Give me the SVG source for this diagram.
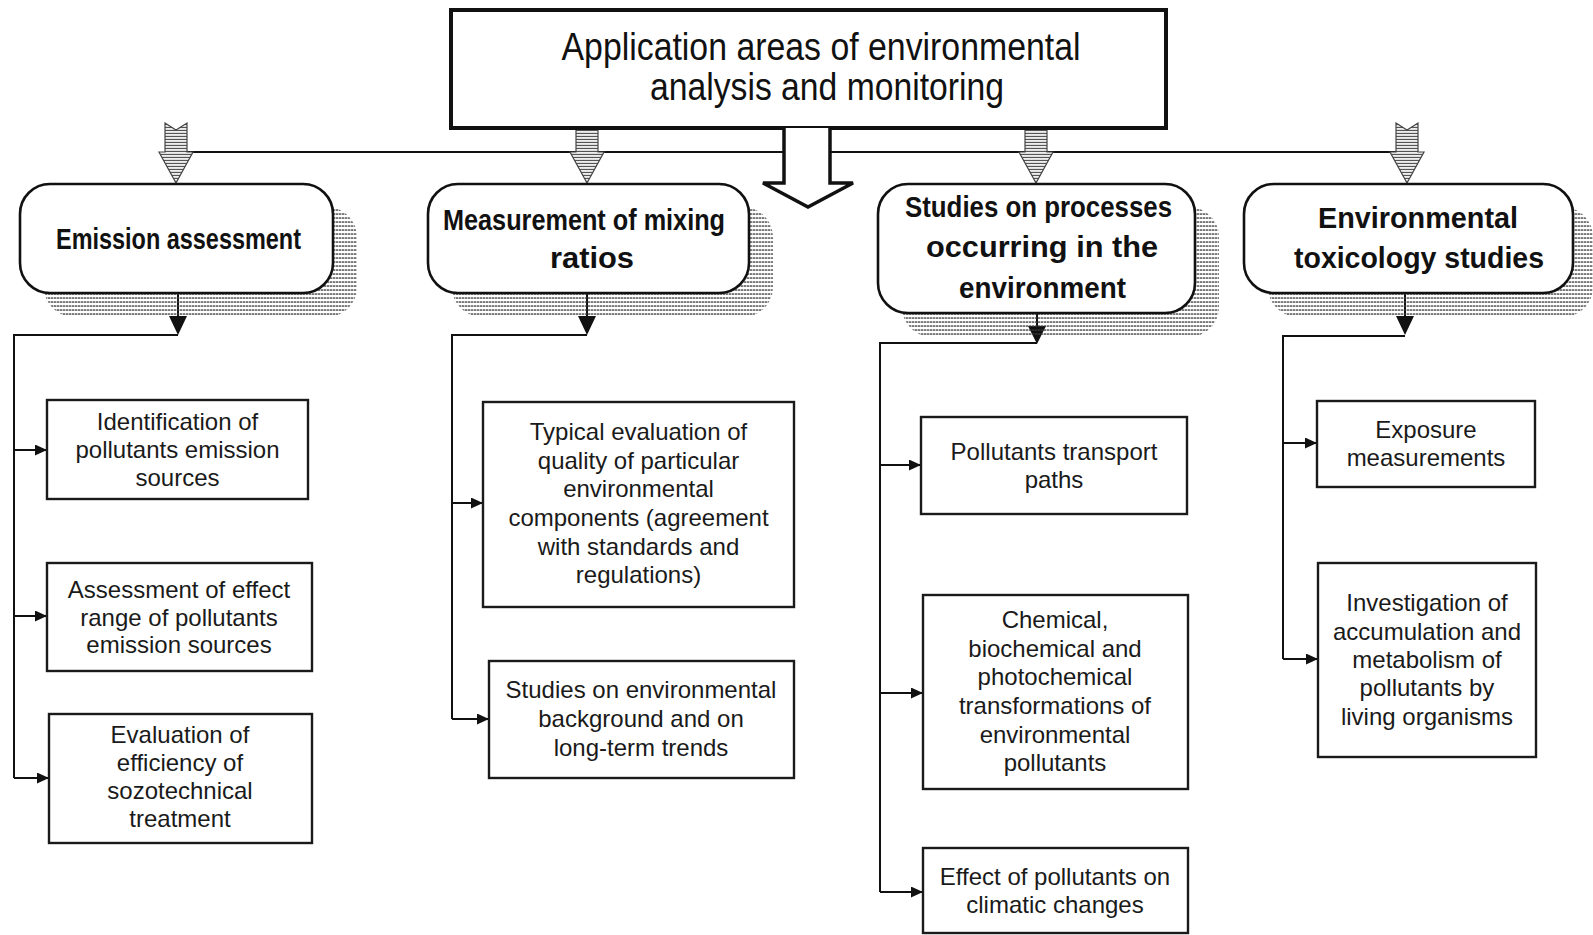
<svg xmlns="http://www.w3.org/2000/svg" width="1593" height="935" viewBox="0 0 1593 935">
<style>
  .bg{fill:#ffffff}
  .title{font-family:"Liberation Sans",Arial,sans-serif;font-size:38px;fill:#111;text-anchor:middle}
  .head{font-family:"Liberation Sans",Arial,sans-serif;font-size:30px;font-weight:bold;fill:#111;text-anchor:middle}
  .leaf{font-family:"Liberation Sans",Arial,sans-serif;font-size:24px;fill:#1a1a1a;text-anchor:middle}
  .topbox{fill:#fff;stroke:#111;stroke-width:4}
  .rbox{fill:#fff;stroke:#111;stroke-width:2.6}
  .shadow{fill:url(#shadowHatch);stroke:none}
  .cbox{fill:#fff;stroke:#1a1a1a;stroke-width:2.4}
  .conn{fill:none;stroke:#111;stroke-width:2}
  .tri{fill:#111;stroke:none}
  .hat{fill:url(#arrowHatch);stroke:#444;stroke-width:1.2}
  .big{fill:#fff;stroke:#111;stroke-width:3.5;stroke-linejoin:miter}
</style>
<defs>
  <pattern id="arrowHatch" patternUnits="userSpaceOnUse" width="4" height="3">
    <rect x="0" y="0" width="4" height="3" fill="#fff"/>
    <rect x="0" y="0.8" width="4" height="1.3" fill="#555"/>
  </pattern>
  <pattern id="shadowHatch" patternUnits="userSpaceOnUse" width="3" height="4">
    <rect x="0" y="1.4" width="2.4" height="1.3" fill="#3a3a3a"/>
  </pattern>
  <marker id="ah" markerUnits="userSpaceOnUse" markerWidth="13" markerHeight="11" refX="12" refY="5.5" orient="auto">
    <path d="M0,0 L12,5.5 L0,11 Z" fill="#111"/>
  </marker>
  <path id="hatArrow" class="hat" d="M-11,123 L0,130 L11,123 L11,152 L17,152 L0,183 L-17,152 L-11,152 Z"/>
</defs>
<rect class="bg" x="0" y="0" width="1593" height="935"/>

<g id="connectors">
  <line class="conn" x1="176" y1="152" x2="1407" y2="152" stroke-width="2.5"/>
  <use href="#hatArrow" transform="translate(176,0)"/>
  <use href="#hatArrow" transform="translate(587,0)"/>
  <use href="#hatArrow" transform="translate(1036,0)"/>
  <use href="#hatArrow" transform="translate(1407,0)"/>

  <!-- emission assessment -->
  <line class="conn" x1="178" y1="293" x2="178" y2="318"/>
  <polygon class="tri" points="169,316 187,316 178,335"/>
  <path class="conn" d="M178,335 H14 V778"/>
  <path class="conn" d="M14,450 H47" marker-end="url(#ah)"/>
  <path class="conn" d="M14,616 H47" marker-end="url(#ah)"/>
  <path class="conn" d="M14,778 H49" marker-end="url(#ah)"/>

  <!-- mixing ratios -->
  <line class="conn" x1="587" y1="293" x2="587" y2="318"/>
  <polygon class="tri" points="578,316 596,316 587,335"/>
  <path class="conn" d="M587,335 H452 V719"/>
  <path class="conn" d="M452,503 H483" marker-end="url(#ah)"/>
  <path class="conn" d="M452,719 H489" marker-end="url(#ah)"/>

  <!-- processes -->
  <line class="conn" x1="1037" y1="313" x2="1037" y2="328"/>
  <polygon class="tri" points="1028,326 1046,326 1037,344"/>
  <path class="conn" d="M1037,343 H880 V892"/>
  <path class="conn" d="M880,465 H921" marker-end="url(#ah)"/>
  <path class="conn" d="M880,693 H923" marker-end="url(#ah)"/>
  <path class="conn" d="M880,892 H923" marker-end="url(#ah)"/>

  <!-- toxicology -->
  <line class="conn" x1="1405" y1="293" x2="1405" y2="318"/>
  <polygon class="tri" points="1396,316 1414,316 1405,335"/>
  <path class="conn" d="M1405,336 H1283 V659"/>
  <path class="conn" d="M1283,443 H1317" marker-end="url(#ah)"/>
  <path class="conn" d="M1283,659 H1318" marker-end="url(#ah)"/>
</g>

<g id="top">
  <rect class="topbox" x="451" y="10" width="715" height="118"/>
  <text class="title" x="821" y="60" textLength="519" lengthAdjust="spacingAndGlyphs">Application areas of environmental</text>
  <text class="title" x="827" y="100" textLength="354" lengthAdjust="spacingAndGlyphs">analysis and monitoring</text>
  <path class="big" d="M784,128 V183 H763 L808,207 L853,183 H830 V128"/>
</g>

<g id="emission">
  <rect class="shadow" x="44" y="207" width="313" height="110" rx="30"/>
  <rect class="rbox" x="20" y="184" width="313" height="109" rx="30"/>
  <text class="head" x="178.5" y="249" textLength="245" lengthAdjust="spacingAndGlyphs">Emission assessment</text>
</g>

<g id="mixing">
  <rect class="shadow" x="452" y="207" width="321" height="110" rx="30"/>
  <rect class="rbox" x="428" y="184" width="321" height="109" rx="30"/>
  <text class="head" x="584" y="230" textLength="282" lengthAdjust="spacingAndGlyphs">Measurement of mixing</text>
  <text class="head" x="592" y="268" textLength="84" lengthAdjust="spacingAndGlyphs">ratios</text>
</g>

<g id="processes">
  <rect class="shadow" x="902" y="207" width="317" height="130" rx="30"/>
  <rect class="rbox" x="878" y="184" width="317" height="129" rx="30"/>
  <text class="head" x="1038.5" y="217" textLength="267" lengthAdjust="spacingAndGlyphs">Studies on processes</text>
  <text class="head" x="1042" y="257" textLength="232" lengthAdjust="spacingAndGlyphs">occurring in the</text>
  <text class="head" x="1042.5" y="298" textLength="167" lengthAdjust="spacingAndGlyphs">environment</text>
</g>

<g id="toxicology">
  <rect class="shadow" x="1268" y="207" width="325" height="110" rx="30"/>
  <rect class="rbox" x="1244" y="184" width="329" height="109" rx="30"/>
  <text class="head" x="1418" y="228" textLength="200" lengthAdjust="spacingAndGlyphs">Environmental</text>
  <text class="head" x="1419" y="268" textLength="250" lengthAdjust="spacingAndGlyphs">toxicology studies</text>
</g>

<g id="identification">
  <rect class="cbox" x="47" y="400" width="261" height="99"/>
  <text class="leaf" x="177.5"><tspan x="177.5" y="430">Identification of</tspan><tspan x="177.5" y="458">pollutants emission</tspan><tspan x="177.5" y="486">sources</tspan></text>
</g>
<g id="effect-range">
  <rect class="cbox" x="47" y="563" width="265" height="108"/>
  <text class="leaf" x="179"><tspan x="179" y="598">Assessment of effect</tspan><tspan x="179" y="626">range of pollutants</tspan><tspan x="179" y="653">emission sources</tspan></text>
</g>
<g id="efficiency">
  <rect class="cbox" x="49" y="714" width="263" height="129"/>
  <text class="leaf" x="180"><tspan x="180" y="743">Evaluation of</tspan><tspan x="180" y="771">efficiency of</tspan><tspan x="180" y="799">sozotechnical</tspan><tspan x="180" y="827">treatment</tspan></text>
</g>

<g id="typical-evaluation">
  <rect class="cbox" x="483" y="402" width="311" height="205"/>
  <text class="leaf" x="638.5"><tspan x="638.5" y="440">Typical evaluation of</tspan><tspan x="638.5" y="469">quality of particular</tspan><tspan x="638.5" y="497">environmental</tspan><tspan x="638.5" y="526">components (agreement</tspan><tspan x="638.5" y="555">with standards and</tspan><tspan x="638.5" y="583">regulations)</tspan></text>
</g>
<g id="background">
  <rect class="cbox" x="489" y="661" width="305" height="117"/>
  <text class="leaf" x="641"><tspan x="641" y="698">Studies on environmental</tspan><tspan x="641" y="727">background and on</tspan><tspan x="641" y="756">long-term trends</tspan></text>
</g>

<g id="transport">
  <rect class="cbox" x="921" y="417" width="266" height="97"/>
  <text class="leaf" x="1054"><tspan x="1054" y="460">Pollutants transport</tspan><tspan x="1054" y="488">paths</tspan></text>
</g>
<g id="transformations">
  <rect class="cbox" x="923" y="595" width="265" height="194"/>
  <text class="leaf" x="1055"><tspan x="1055" y="628">Chemical,</tspan><tspan x="1055" y="657">biochemical and</tspan><tspan x="1055" y="685">photochemical</tspan><tspan x="1055" y="714">transformations of</tspan><tspan x="1055" y="743">environmental</tspan><tspan x="1055" y="771">pollutants</tspan></text>
</g>
<g id="climatic">
  <rect class="cbox" x="923" y="848" width="265" height="85"/>
  <text class="leaf" x="1055"><tspan x="1055" y="885">Effect of pollutants on</tspan><tspan x="1055" y="913">climatic changes</tspan></text>
</g>

<g id="exposure">
  <rect class="cbox" x="1317" y="401" width="218" height="86"/>
  <text class="leaf" x="1426"><tspan x="1426" y="438">Exposure</tspan><tspan x="1426" y="466">measurements</tspan></text>
</g>
<g id="accumulation">
  <rect class="cbox" x="1318" y="563" width="218" height="194"/>
  <text class="leaf" x="1427"><tspan x="1427" y="611">Investigation of</tspan><tspan x="1427" y="640">accumulation and</tspan><tspan x="1427" y="668">metabolism of</tspan><tspan x="1427" y="696">pollutants by</tspan><tspan x="1427" y="725">living organisms</tspan></text>
</g>
</svg>
